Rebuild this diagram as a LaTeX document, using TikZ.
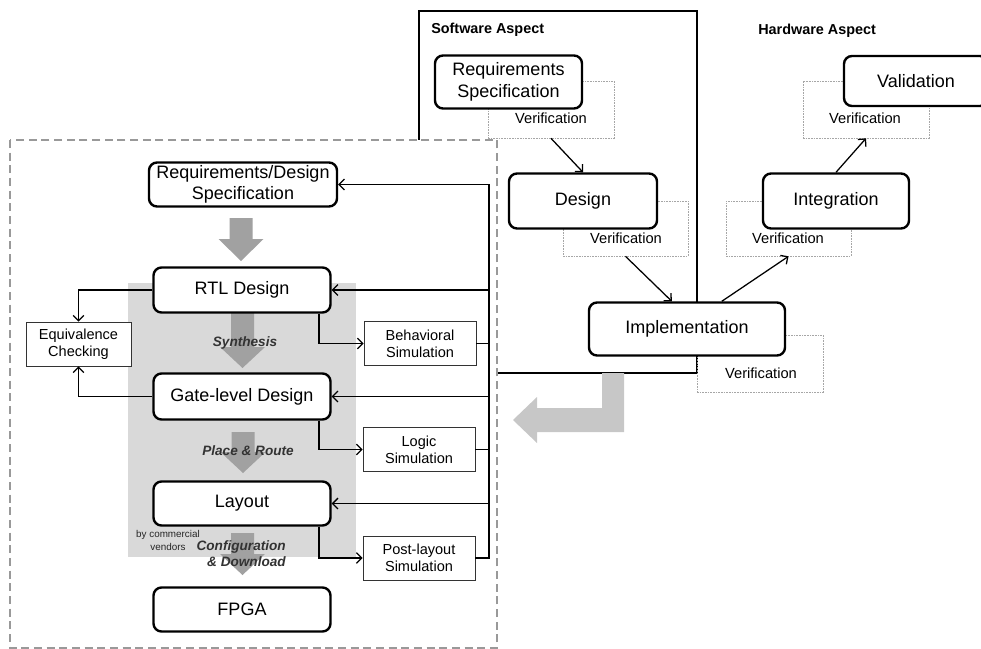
\documentclass[tikz,border=0pt]{standalone}
\usepackage{fontspec}
\setmainfont{Liberation Sans}
\usetikzlibrary{arrows.meta,calc}
% gray block arrow pointing down: centre x, shaft top, head base, tip
\newcommand\dnarrow[4]{%
  \fill[blk] ({#1-11.5},#2) -- ({#1+11.5},#2) -- ({#1+11.5},#3) -- ({#1+22.5},#3)
    -- (#1,#4) -- ({#1-22.5},#3) -- ({#1-11.5},#3) -- cycle;}
\begin{document}
\begin{tikzpicture}[x=0.75pt,y=-0.75pt,
  sz/.style 2 args={minimum width=#1*0.75pt,minimum height=#2*0.75pt},
  stage/.style={draw=black,line width=1.8pt,rounded corners=6pt,fill=white,inner sep=0pt,
    align=center,font=\fontsize{13.5}{16}\selectfont},
  simbox/.style={draw=black!80,line width=0.6pt,fill=white,inner sep=0pt,align=center,
    font=\fontsize{10.9}{12.8}\selectfont},
  vbox/.style={draw=black!35,line width=0.5pt,dash pattern=on 1.2pt off 0.8pt,inner sep=0pt},
  vtext/.style={font=\fontsize{11}{12}\selectfont,inner sep=0pt},
  conn/.style={draw=black,line width=0.95pt},
  arr/.style={conn,-{Straight Barb[length=4pt,width=8pt]}},
  blk/.style={fill=black!37},
  steplabel/.style={font=\fontsize{10.2}{12}\selectfont\bfseries\itshape,text=black!80,
    inner sep=0pt,align=right},
  tinytext/.style={font=\fontsize{7.4}{9.7}\selectfont,text=black!85,inner sep=0pt,align=center},
  aspect/.style={font=\fontsize{10.8}{13}\selectfont\bfseries,inner sep=0pt,anchor=west}
]
\useasboundingbox (0,0) rectangle (981,649);

% ---------- software / hardware aspect ----------
\draw[line width=1pt] (419,11) rectangle (697,373);
\node[aspect] (swlabel) at (431,30) {Software Aspect};
\node[aspect] (hwlabel) at (758,31) {Hardware Aspect};

% verification frames
\node[vbox,sz={126}{57}] (v1) at (551,109.5) {};
\node[vtext] (v1t) at (551,118) {Verification};
\node[vbox,sz={125}{55}] (v2) at (625.5,228.5) {};
\node[vtext] (v2t) at (626,238) {Verification};
\node[vbox,sz={126}{57}] (v3) at (760,363.5) {};
\node[vtext] (v3t) at (761,373) {Verification};
\node[vbox,sz={125}{55}] (v4) at (788.5,228.5) {};
\node[vtext] (v4t) at (788,238) {Verification};
\node[vbox,sz={126}{57}] (v5) at (866,109.5) {};
\node[vtext] (v5t) at (865,118) {Verification};

% V-model stages
\node[stage,sz={147}{53}] (reqspec) at (508.5,82) {Requirements\\Specification};
\node[stage,sz={148}{55}] (design) at (583,201) {Design};
\node[stage,sz={196}{53}] (impl) at (687,329) {Implementation};
\node[stage,sz={146}{55}] (integ) at (836,201) {Integration};
\node[stage,sz={144}{50}] (valid) at (916,81) {Validation};

\draw[arr] (v1.south) -- (design.north);
\draw[arr] (v2.south) -- ($(impl.north west)+(84,0)$);
\draw[arr] ($(impl.north west)+(134,0)$) -- (v4.south);
\draw[arr] (integ.north) -- (v5.south);

% big L-shaped arrow into the FPGA flow
\fill[black!22] (602,373) -- (624,373) -- (624,432) -- (537,432) -- (537,443)
  -- (513,420) -- (537,397) -- (537,408) -- (602,408) -- cycle;

% ---------- FPGA design flow ----------
\draw[draw=black!40,line width=1pt,dash pattern=on 6pt off 3.5pt,fill=white]
  (10,140) rectangle (497,648);
\fill[black!15] (128,283) rectangle (356,557);

\dnarrow{241}{218}{239}{261}
\dnarrow{242.5}{312}{347}{368}
\dnarrow{243}{432}{452}{473}
\dnarrow{242.5}{533}{554}{575}

\node[stage,sz={188}{44}] (reqdes) at (243,184.5) {Requirements/Design\\Specification};
\node[stage,sz={177}{45}] (rtl) at (242,290) {RTL Design};
\node[stage,sz={177}{46}] (gate) at (242,396.5) {Gate-level Design};
\node[stage,sz={177}{44}] (layout) at (242,503.5) {Layout};
\node[stage,sz={177}{44}] (fpga) at (242,609.5) {FPGA};

\node[simbox,sz={105}{44}] (equiv) at (78.5,344) {Equivalence\\Checking};
\node[simbox,sz={112}{44}] (behav) at (420,343.5) {Behavioral\\Simulation};
\node[simbox,sz={112}{44}] (logic) at (419,449.5) {Logic\\Simulation};
\node[simbox,sz={112}{44}] (post) at (419,558) {Post-layout\\Simulation};

\node[steplabel] (syn) at (245,343) {Synthesis};
\node[steplabel] (pr) at (248,451) {Place \& Route};
\node[steplabel,anchor=east] (cfg) at (286,554) {Configuration\\\& Download};
\node[tinytext] (vend) at (168,540.5) {by commercial\\vendors};

% feedback bus
\coordinate (busx) at (489,0);
\coordinate (tapx) at (319,0);
\draw[arr] (post.east) -| (reqdes.east -| busx) -- (reqdes.east);
\draw[arr] (rtl.east -| busx) -- (rtl.east);
\draw[arr] (gate.east -| busx) -- (gate.east);
\draw[arr] (layout.east -| busx) -- (layout.east);
\draw[conn] (behav.east) -- (behav.east -| busx);
\draw[conn] (logic.east) -- (logic.east -| busx);

% simulation taps
\draw[arr] (rtl.south -| tapx) |- (behav.west);
\draw[arr] (gate.south -| tapx) |- (logic.west);
\draw[arr] (layout.south -| tapx) |- (post.west);

% equivalence checking
\draw[arr] (rtl.west) -| (equiv.north);
\draw[arr] (gate.west) -| (equiv.south);
\end{tikzpicture}
\end{document}
